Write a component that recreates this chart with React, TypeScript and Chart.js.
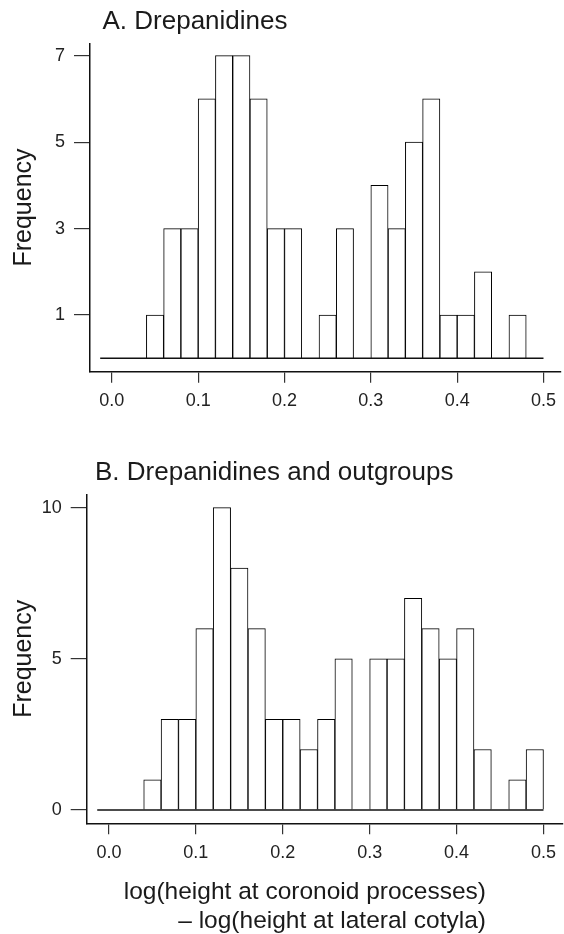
import React, { useEffect, useRef } from 'react';
import { Chart, registerables } from 'chart.js';

Chart.register(...registerables);

// ---- data ----
const binCenters = [0.05, 0.07, 0.09, 0.11, 0.13, 0.15, 0.17, 0.19, 0.21, 0.23, 0.25, 0.27, 0.29, 0.31, 0.33, 0.35, 0.37, 0.39, 0.41, 0.43, 0.45, 0.47, 0.49];
const countsA = [1, 3, 3, 6, 7, 7, 6, 3, 3, 0, 1, 3, 0, 4, 3, 5, 6, 1, 1, 2, 0, 1, 0];
const countsB = [1, 3, 3, 6, 10, 8, 6, 3, 3, 2, 3, 5, 0, 5, 5, 7, 6, 5, 6, 2, 0, 1, 2];
const histRange = [-0.0135, 0.5];
const xTicks = [0, 0.1, 0.2, 0.3, 0.4, 0.5];
const xTickLabels = ['0.0', '0.1', '0.2', '0.3', '0.4', '0.5'];
const yTicksA = [1, 3, 5, 7];
const yTicksB = [0, 5, 10];
const titleA = 'A. Drepanidines';
const titleB = 'B. Drepanidines and outgroups';
const yLabel = 'Frequency';
const xLabelLines = ['log(height at coronoid processes)', '\u2013 log(height at lateral cotyla)'];

const FONT = '"Liberation Sans", Arial, Helvetica, sans-serif';
const INK = '#1a1a1a';

type Panel = {
  counts: number[];
  yTicks: number[];
  yMin: number;
  yMax: number;
  xMin: number;
  xMax: number;
  areaLeft: number;
  areaTop: number;
  areaBottom: number;
  height: number;
  title: string;
  titleX: number;
  titleY: number;
  xLabel: string[] | null;
};

const panels: Panel[] = [
  {
    counts: countsA, yTicks: yTicksA, yMin: -0.312, yMax: 7.286,
    xMin: -0.0253, xMax: 0.5195,
    areaLeft: 90, areaTop: 43.3, areaBottom: 371.7, height: 450,
    title: titleA, titleX: 102.5, titleY: 29, xLabel: null,
  },
  {
    counts: countsB, yTicks: yTicksB, yMin: -0.44, yMax: 10.443,
    xMin: -0.0256, xMax: 0.5218,
    areaLeft: 86.7, areaTop: 44.3, areaBottom: 373.3, height: 484,
    title: titleB, titleX: 95, titleY: 30, xLabel: xLabelLines,
  },
];

const textPlugin = {
  id: 'panelTexts',
  afterDraw(chart: any, _args: any, opts: any) {
    const ctx = chart.ctx as CanvasRenderingContext2D;
    const area = chart.chartArea;
    ctx.save();
    ctx.fillStyle = INK;
    ctx.textBaseline = 'alphabetic';
    ctx.font = `26px ${FONT}`;
    ctx.textAlign = 'left';
    ctx.fillText(opts.title, opts.titleX, opts.titleY);
    if (opts.xLabel) {
      ctx.font = `24.5px ${FONT}`;
      ctx.textAlign = 'right';
      ctx.fillText(opts.xLabel[0], 486, 449);
      ctx.fillText(opts.xLabel[1], 486, 478);
    }
    ctx.translate(30.5, (area.top + area.bottom) / 2);
    ctx.rotate(-Math.PI / 2);
    ctx.font = `25px ${FONT}`;
    ctx.textAlign = 'center';
    ctx.fillText(yLabel, 0, 0);
    ctx.restore();
  },
};

function HistPanel({ p }: { p: Panel }) {
  const ref = useRef<HTMLCanvasElement>(null);
  useEffect(() => {
    const canvas = ref.current;
    if (!canvas) return;
    const chart = new Chart(canvas, {
      type: 'bar',
      data: {
        datasets: [
          {
            type: 'line',
            data: histRange.map((x) => ({ x, y: 0 })),
            borderColor: '#111',
            borderWidth: 1.4,
            pointRadius: 0,
            fill: false,
          } as any,
          {
            type: 'bar',
            data: binCenters.map((x, i) => ({ x, y: p.counts[i] })),
            backgroundColor: '#ffffff',
            borderColor: '#000000',
            borderWidth: 1,
            barPercentage: 1,
            categoryPercentage: 1,
          } as any,
        ],
      },
      options: {
        responsive: false,
        animation: false,
        devicePixelRatio: 1,
        layout: { padding: { top: p.areaTop, left: 0, right: 0, bottom: 0 } },
        plugins: {
          legend: { display: false },
          tooltip: { enabled: false },
          panelTexts: { title: p.title, titleX: p.titleX, titleY: p.titleY, xLabel: p.xLabel },
        } as any,
        scales: {
          x: {
            type: 'linear',
            min: p.xMin,
            max: p.xMax,
            offset: false,
            afterBuildTicks: (s: any) => { s.ticks = xTicks.map((v) => ({ value: v })); },
            afterFit: (s: any) => { s.height = p.height - p.areaBottom; },
            border: { display: true, color: '#111', width: 1.5 },
            grid: { offset: false, drawOnChartArea: false, drawTicks: true, tickLength: 11, color: '#333', lineWidth: 1.2 },
            ticks: {
              autoSkip: false,
              maxRotation: 0,
              padding: 8,
              color: '#222',
              font: { size: 18, family: FONT },
              callback: (v: any) => { const i = xTicks.findIndex((t) => Math.abs(t - Number(v)) < 1e-9); return i >= 0 ? xTickLabels[i] : ''; },
            },
          },
          y: {
            type: 'linear',
            min: p.yMin,
            max: p.yMax,
            afterBuildTicks: (s: any) => { s.ticks = p.yTicks.map((v) => ({ value: v })); },
            afterFit: (s: any) => { s.width = p.areaLeft; },
            border: { display: true, color: '#111', width: 1.5 },
            grid: { drawOnChartArea: false, drawTicks: true, tickLength: 16, color: '#333', lineWidth: 1.2 },
            ticks: {
              autoSkip: false,
              padding: 9,
              color: '#222',
              font: { size: 18, family: FONT },
              callback: (v: any) => String(v),
            },
          },
        },
      },
      plugins: [textPlugin as any],
    });
    return () => chart.destroy();
  }, [p]);
  return <canvas ref={ref} width={564} height={p.height} style={{ display: 'block', width: 564, height: p.height }} />;
}

export default function App() {
  return (
    <div style={{ position: 'absolute', left: 0, top: 0, width: 564, height: 934, background: '#fff', overflow: 'hidden' }}>
      {panels.map((p, i) => (
        <HistPanel key={i} p={p} />
      ))}
    </div>
  );
}
